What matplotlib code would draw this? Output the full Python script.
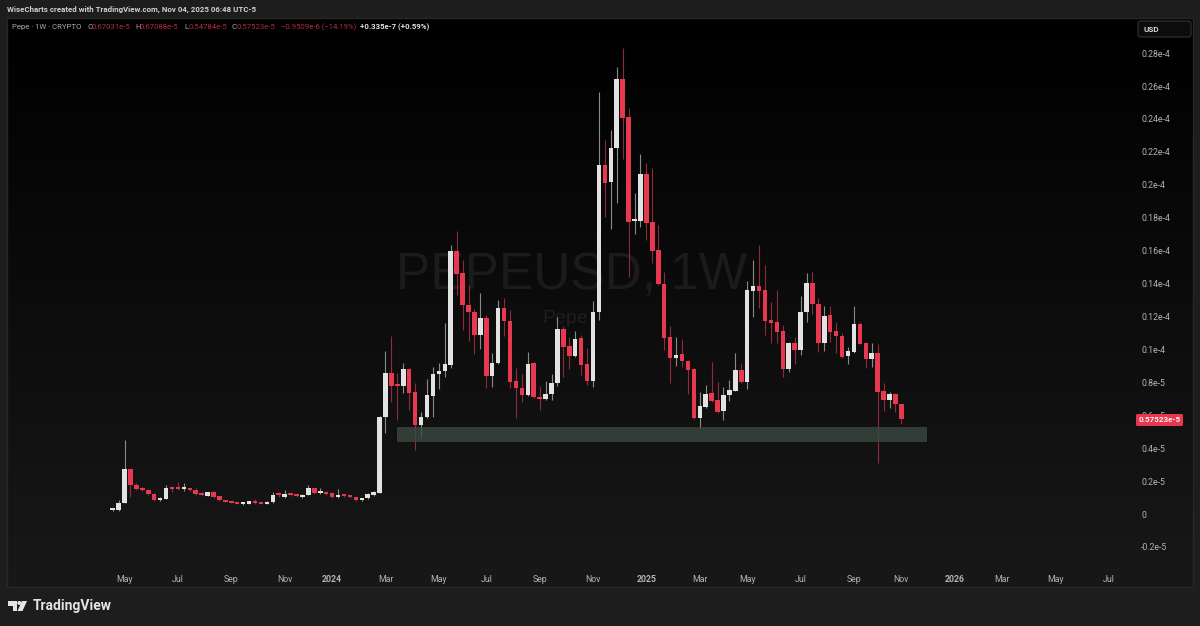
import numpy as np
import matplotlib
matplotlib.use("Agg")
import matplotlib.pyplot as plt
from matplotlib.patches import Rectangle, Polygon, Circle, FancyBboxPatch

# OHLC in units of 1e-5 USD, one row per week
opens = [.024,.024,.065,.275,.178,.158,.148,.122,.087,.091,.158,.158,.154,.154,.148,.128,.111,.134,.108,.085,.077,.069,.059,.063,.077,.069,.061,.071,.12,.105,.122,.117,.105,.115,.156,.128,.134,.129,.105,.12,.111,.103,.083,.095,.117,.129,
 .589,.857,.79,.778,.881,.741,.541,.589,.717,.85,.869,.905,1.598,1.464,1.27,1.227,1.087,1.19,.838,.917,1.251,1.172,.808,.765,.723,.917,.711,.699,.729,.796,1.124,1.021,.96,1.069,.911,.808,1.227,2.12,2.017,2.223,2.643,2.412,1.78,1.78,2.066,1.774,1.604,1.397,1.075,.948,.972,.929,.881,.583,.65,.735,.693,.626,.723,.747,.875,.802,1.355,1.385,1.361,1.179,1.166,1.112,.881,1.039,.996,1.227,1.403,1.276,1.039,1.209,1.112,1.081,.96,.984,1.154,1.039,.942,.978,.747,.693,.729,.67031]
highs = [.038,.085,.45,.275,.186,.165,.15,.125,.101,.178,.17,.194,.186,.158,.155,.132,.135,.14,.112,.088,.08,.071,.068,.082,.089,.072,.08,.134,.135,.146,.127,.12,.121,.174,.16,.156,.14,.134,.15,.124,.115,.106,.1,.128,.138,.595,
 .99,1.08,.857,.917,.885,.796,.62,.82,.893,.917,1.16,1.634,1.72,1.543,1.39,1.245,1.343,1.209,.978,1.3,1.312,1.239,.887,.85,.984,.923,.778,.808,.85,1.197,1.142,1.075,1.112,1.087,1.008,1.294,2.564,2.272,2.333,2.716,2.831,2.466,1.95,2.187,2.132,2.102,1.756,1.47,1.142,1.075,1.063,.936,.887,.741,.784,.923,.802,.772,.814,.978,.917,1.415,1.543,1.634,1.513,1.288,1.361,1.148,1.045,1.075,1.324,1.464,1.47,1.312,1.264,1.264,1.166,1.1,1.015,1.264,1.166,1.045,1.039,1.033,.796,.741,.735,.67088]
lows = [.016,.02,.065,.103,.146,.14,.115,.08,.081,.089,.135,.146,.142,.14,.118,.11,.108,.1,.08,.072,.066,.06,.056,.06,.063,.06,.058,.069,.103,.1,.11,.103,.1,.113,.12,.12,.118,.1,.1,.105,.1,.08,.078,.09,.112,.125,
 .492,.68,.571,.735,.632,.389,.462,.585,.589,.759,.832,.887,1.33,1.118,1.05,.972,1.0,.765,.772,.911,1.081,.765,.583,.68,.717,.705,.632,.693,.693,.778,.832,.881,.954,.844,.784,.772,1.179,1.804,1.731,1.889,2.157,1.44,1.70,1.744,1.665,1.525,1.391,.996,.796,.899,.893,.729,.577,.522,.645,.68,.614,.571,.686,.745,.796,.759,1.197,1.251,1.087,1.039,1.039,.832,.863,.911,.966,1.166,1.215,.984,.99,1.045,.978,.948,.911,.978,1.03,.887,.893,.31,.626,.644,.62,.54784]
closes = [.027,.069,.275,.174,.154,.144,.12,.085,.093,.156,.152,.154,.158,.148,.123,.114,.132,.105,.083,.075,.069,.063,.065,.077,.067,.063,.075,.115,.115,.122,.115,.108,.117,.156,.128,.134,.123,.105,.117,.109,.103,.083,.095,.123,.132,.591,
 .857,.778,.778,.881,.735,.541,.589,.723,.85,.869,.911,1.598,1.458,1.27,1.227,1.087,1.19,.838,.917,1.251,1.172,.802,.765,.723,.911,.711,.699,.729,.796,1.124,1.015,.96,1.063,.905,.808,1.227,2.12,2.011,2.223,2.643,2.406,1.774,1.786,2.066,1.768,1.598,1.397,1.069,.948,.966,.929,.875,.583,.656,.729,.686,.62,.723,.753,.875,.802,1.361,1.385,1.355,1.172,1.16,1.106,.881,1.039,.996,1.227,1.403,1.276,1.039,1.203,1.106,1.081,.954,.99,1.154,1.033,.942,.978,.741,.693,.729,.67,.57523]

y_ticks = [-.2,0,.2,.4,.6,.8,1,1.2,1.4,1.6,1.8,2,2.2,2.4,2.6,2.8]
y_labels = ['-0.2e-5','0','0.2e-5','0.4e-5','0.6e-5','0.8e-5','0.1e-4','0.12e-4','0.14e-4','0.16e-4','0.18e-4','0.2e-4','0.22e-4','0.24e-4','0.26e-4','0.28e-4']
x_ticks = [2,11,20,29,37,46,55,63,72,81,90,99,107,116,125,133,142,150,159,168]
x_labels = ['May','Jul','Sep','Nov','2024','Mar','May','Jul','Sep','Nov','2025','Mar','May','Jul','Sep','Nov','2026','Mar','May','Jul']
zone_x = (47.9, 137.3)
zone_y = (.437, .529)

opens, highs, lows, closes = map(np.array, (opens, highs, lows, closes))
n = min(map(len, (opens, highs, lows, closes)))
print(len(opens), len(highs), len(lows), len(closes))
opens, highs, lows, closes = opens[:n], highs[:n], lows[:n], closes[:n]
idx = np.arange(n)

W, H = 1200, 626
plt.rcParams['font.family'] = ['Roboto', 'DejaVu Sans']
fig = plt.figure(figsize=(W/100, H/100), dpi=100, facecolor='#1d1d1d')

def rect(l, t, r, b):
    return [l/W, 1-b/H, (r-l)/W, (b-t)/H]

# gradient pane
bg = fig.add_axes(rect(7, 18, 1193, 587), zorder=0)
bg.imshow(np.linspace(0, 1, 256).reshape(-1, 1),
          cmap=matplotlib.colors.LinearSegmentedColormap.from_list('g', ['#000000', '#181818']),
          aspect='auto', vmin=0, vmax=1)
bg.set_xticks([]); bg.set_yticks([])
for s in bg.spines.values():
    s.set_color('#272727'); s.set_linewidth(1)

ax = fig.add_axes(rect(7, 18, 1137, 565), zorder=1)
ax.patch.set_alpha(0)
X0, DX = 112.7, 5.93
ax.set_xlim((7-X0)/DX, (1137-X0)/DX)
ax.set_ylim((514-565)/164.6, (514-18)/164.6)

up = closes >= opens
ax.vlines(idx[up], lows[up], highs[up], color='#8a8a8a', lw=0.8, zorder=2)
ax.vlines(idx[~up], lows[~up], highs[~up], color='#8f2a3a', lw=0.8, zorder=2)
bot = np.minimum(opens, closes)
hgt = np.maximum(np.abs(closes-opens), .012)
ax.bar(idx[up], hgt[up], bottom=bot[up], width=.76, color='#e2e2e2', lw=0, zorder=3)
ax.bar(idx[~up], hgt[~up], bottom=bot[~up], width=.76, color='#e8384f', lw=0, zorder=3)
ax.add_patch(Rectangle((zone_x[0], zone_y[0]), zone_x[1]-zone_x[0], zone_y[1]-zone_y[0],
                       facecolor='#3c4a42', alpha=.78, lw=0, zorder=4))

fig.text(572/W, 1-276/H, 'PEPEUSD, 1W', color='#1b1b1b', fontsize=37, family='Liberation Sans', ha='center', va='center', zorder=.5)
fig.text(565/W, 1-318/H, 'Pepe', color='#1f1f1f', fontsize=14, family='Liberation Sans', ha='center', va='center', zorder=.5)

for s in ax.spines.values():
    s.set_visible(False)
ax.yaxis.tick_right()
ax.set_yticks(y_ticks, y_labels)
ax.set_xticks(x_ticks, x_labels)
ax.tick_params(axis='y', length=0, pad=3, labelsize=6.3, labelcolor='#b4b4b4')
ax.tick_params(axis='x', length=0, pad=7, labelsize=6.3, labelcolor='#b4b4b4')
for t in ax.get_xticklabels():
    if t.get_text() in ('2024', '2025', '2026'):
        t.set_fontweight('bold')

# header
fig.text(7/W, 1-9/H, 'WiseCharts created with TradingView.com, Nov 04, 2025 06:48 UTC-5', color='#d0d0d0', fontsize=5.7, fontweight='bold', va='center')
GR, RD, WH = '#a8a8a8', '#b02a40', '#e0e0e0'
for x, s, c in [(12, 'Pepe · 1W · CRYPTO', GR), (87, 'O', GR), (92, '0.67031e-5', RD), (135, 'H', GR), (140, '0.67088e-5', RD),
                (184, 'L', GR), (189, '0.54784e-5', RD), (232, 'C', GR), (237, '0.57523e-5', RD),
                (281, '−0.9509e-6 (−14.19%)', RD), (360, '+0.335e-7 (+0.59%)', WH)]:
    fig.text(x/W, 1-27/H, s, color=c, fontsize=5.6, va='center', zorder=5, fontweight='bold' if c == WH else 'normal')

# USD button
ov = fig.add_axes([0, 0, 1, 1], zorder=3)
ov.set_xlim(0, W); ov.set_ylim(H, 0); ov.axis('off'); ov.patch.set_alpha(0)
ov.add_patch(FancyBboxPatch((1138, 21), 53, 16, boxstyle='round,pad=0,rounding_size=2.5', facecolor='#0c0c0c', edgecolor='#333333', lw=.8))
ov.text(1143, 29, 'USD', color='#d8d8d8', fontsize=5.8, fontweight='bold', va='center')
# price tag
ov.add_patch(FancyBboxPatch((1136, 414), 47, 12, boxstyle='round,pad=0,rounding_size=1.5', facecolor='#e8384f', edgecolor='none'))
ov.text(1159.5, 420, '0.57523e-5', color='#fff0f0', fontsize=5.8, fontweight='bold', va='center', ha='center')
# logo
lc = '#e4e4e4'
ov.add_patch(Polygon([(8, 601), (17, 601), (17, 611), (12.5, 611), (12.5, 605.5), (8, 605.5)], facecolor=lc, lw=0))
ov.add_patch(Circle((19.3, 603), 2, facecolor=lc, lw=0))
ov.add_patch(Polygon([(22, 601), (27, 601), (22.5, 611), (17.5, 611)], facecolor=lc, lw=0))
ov.text(33, 606, 'TradingView', color='#e4e4e4', fontsize=10, fontweight='bold', va='center')

fig.savefig('out.png', dpi=100, facecolor=fig.get_facecolor())
